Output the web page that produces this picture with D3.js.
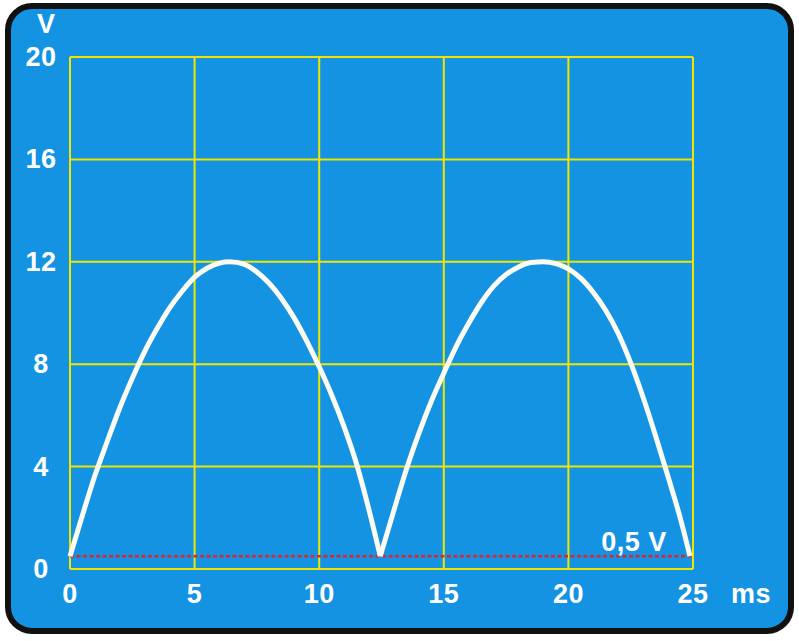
<!DOCTYPE html>
<html>
<head>
<meta charset="utf-8">
<script src="https://cdn.jsdelivr.net/npm/d3@7"></script>
<style>
  html, body { margin: 0; padding: 0; background: #ffffff; }
  svg { display: block; }
  text { font-family: "Liberation Sans", Arial, sans-serif; font-weight: bold; fill: #ffffff; }
</style>
</head>
<body>
<svg id="chart" width="799" height="641"></svg>
<script>
// ---- data ----
const xTicks = [0, 5, 10, 15, 20, 25];          // ms
const yTicks = [0, 4, 8, 12, 16, 20];           // V
const xTickLabels = ["0", "5", "10", "15", "20", "25"];
const yTickLabels = ["0", "4", "8", "12", "16", "20"];
const xUnit = "ms";
const yUnit = "V";
const thresholdValue = 0.5;
const thresholdLabel = "0,5 V";

// first half-wave: time (ms), voltage (V)
const arch1Time = [0, 0.5, 1, 1.5, 2, 2.5, 3, 3.5, 4, 4.5, 5, 5.5, 6, 6.4, 7, 7.5, 8, 8.5, 9, 9.5, 10, 10.5, 11, 11.5, 12, 12.45];
const arch1Volt = [0.5, 2.1, 3.65, 5.0, 6.3, 7.45, 8.5, 9.4, 10.2, 10.85, 11.4, 11.75, 11.95, 12.0, 11.9, 11.6, 11.15, 10.55, 9.8, 8.9, 7.9, 6.8, 5.55, 4.1, 2.3, 0.5];
// second half-wave
const arch2Time = [12.45, 13, 13.5, 14, 14.5, 15, 15.5, 16, 16.5, 17, 17.5, 18, 18.5, 19, 19.5, 20, 20.5, 21, 21.5, 22, 22.5, 23, 23.5, 24, 24.5, 24.88];
const arch2Volt = [0.5, 2.3, 3.9, 5.3, 6.55, 7.65, 8.7, 9.6, 10.4, 11.05, 11.5, 11.8, 11.97, 12.0, 11.93, 11.72, 11.35, 10.8, 10.1, 9.2, 8.05, 6.7, 5.2, 3.6, 1.95, 0.5];

// ---- drawing ----
const svg = d3.select("#chart");
const plot = { left: 70, right: 693, top: 57, bottom: 569 };

const x = d3.scaleLinear().domain([0, 25]).range([plot.left, plot.right]);
const y = d3.scaleLinear().domain([0, 20]).range([plot.bottom, plot.top]);

// panel
svg.append("rect")
  .attr("x", 8).attr("y", 6)
  .attr("width", 783).attr("height", 625)
  .attr("rx", 24).attr("ry", 24)
  .attr("fill", "#1493e3")
  .attr("stroke", "#111111")
  .attr("stroke-width", 6);

const gridColor = "#eee600";

// vertical grid
svg.append("g").selectAll("line").data(xTicks).join("line")
  .attr("x1", d => x(d)).attr("x2", d => x(d))
  .attr("y1", y(20)).attr("y2", y(0))
  .attr("stroke", gridColor).attr("stroke-width", 2);
// horizontal grid
svg.append("g").selectAll("line").data(yTicks).join("line")
  .attr("x1", x(0)).attr("x2", x(25))
  .attr("y1", d => y(d)).attr("y2", d => y(d))
  .attr("stroke", gridColor).attr("stroke-width", 2);

// threshold dashed line
svg.append("line")
  .attr("x1", x(0)).attr("x2", x(25))
  .attr("y1", y(thresholdValue)).attr("y2", y(thresholdValue))
  .attr("stroke", "#e5232a").attr("stroke-width", 2.5)
  .attr("stroke-dasharray", "4,2.5");

// curve
const line = d3.line().x(d => x(d[0])).y(d => y(d[1])).curve(d3.curveMonotoneX);
const arches = [
  d3.zip(arch1Time, arch1Volt),
  d3.zip(arch2Time, arch2Volt)
];
svg.append("g").selectAll("path").data(arches).join("path")
  .attr("d", line)
  .attr("fill", "none")
  .attr("stroke", "#fbfbf2")
  .attr("stroke-width", 5)
  .attr("stroke-linecap", "butt");

// axis labels
svg.append("g").selectAll("text").data(yTicks).join("text")
  .attr("x", 41).attr("y", d => y(d))
  .attr("text-anchor", "middle").attr("dominant-baseline", "central")
  .attr("font-size", 27).attr("letter-spacing", 0.5)
  .text((d, i) => yTickLabels[i]);

svg.append("g").selectAll("text").data(xTicks).join("text")
  .attr("x", d => x(d)).attr("y", 594)
  .attr("text-anchor", "middle").attr("dominant-baseline", "central")
  .attr("font-size", 27).attr("letter-spacing", 0.5)
  .text((d, i) => xTickLabels[i]);

svg.append("text")
  .attr("x", 751).attr("y", 594)
  .attr("text-anchor", "middle").attr("dominant-baseline", "central")
  .attr("font-size", 27).attr("letter-spacing", 0.5)
  .text(xUnit);

svg.append("text")
  .attr("x", 46).attr("y", 24)
  .attr("text-anchor", "middle").attr("dominant-baseline", "central")
  .attr("font-size", 27)
  .text(yUnit);

svg.append("text")
  .attr("x", 634).attr("y", 542)
  .attr("text-anchor", "middle").attr("dominant-baseline", "central")
  .attr("font-size", 27).attr("letter-spacing", 0.5)
  .text(thresholdLabel);
</script>
</body>
</html>
